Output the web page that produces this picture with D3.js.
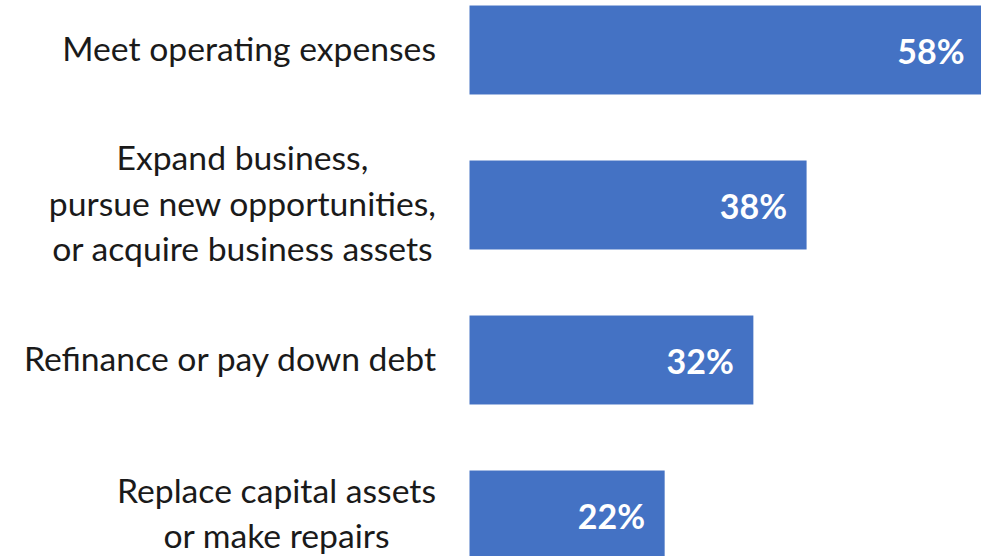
<!DOCTYPE html>
<html><head><meta charset="utf-8">
<script src="https://cdn.jsdelivr.net/npm/d3@7"></script>
<style>html,body{margin:0;padding:0;background:#fff;overflow:hidden}</style>
</head><body>
<svg id="chart" width="981" height="556"></svg>
<script>
const categories = [
  ["Meet operating expenses"],
  ["Expand business,", "pursue new opportunities,", "or acquire business assets"],
  ["Refinance or pay down debt"],
  ["Replace capital assets", "or make repairs"]
];
const values = [58, 38, 32, 22];
const valueLabels = ["58%", "38%", "32%", "22%"];

const W = 981, H = 556;
const svg = d3.select("#chart");
const keys = categories.map((c, i) => i);
const data = keys.map(i => ({ i, lines: categories[i], v: values[i], lab: valueLabels[i] }));

const x = d3.scaleLinear().domain([0, 58]).range([469.5, 984]);
const y = d3.scaleBand().domain(keys).range([-27.5, 592.5]).paddingInner(0.426).paddingOuter(0.213);

const font = "Lato, 'Open Sans', sans-serif";
const labelRight = 436, lineH = 45.5;

svg.append("g").selectAll("rect").data(data).join("rect")
  .attr("x", x(0)).attr("y", d => y(d.i))
  .attr("width", d => x(d.v) - x(0)).attr("height", y.bandwidth())
  .attr("fill", "#4472C4");

svg.append("g").selectAll("text").data(data).join("text")
  .attr("x", d => x(d.v) - 19.5)
  .attr("y", d => y(d.i) + y.bandwidth() / 2 + 14)
  .attr("text-anchor", "end")
  .attr("fill", "#fff")
  .style("font-family", font).style("font-size", "34px").style("font-weight", "bold")
  .text(d => d.lab);

const lg = svg.append("g").selectAll("g").data(data).join("g");
lg.each(function(d) {
  const g = d3.select(this);
  const cy = y(d.i) + y.bandwidth() / 2 + 10.5;
  const n = d.lines.length;
  const t = g.selectAll("text").data(d.lines).join("text")
    .attr("y", (l, k) => cy + (k - (n - 1) / 2) * lineH)
    .attr("fill", "#1a1a1a")
    .attr("text-anchor", "middle")
    .style("font-family", font).style("font-size", "33.7px")
    .text(l => l);
  let maxW = 0;
  t.each(function() { maxW = Math.max(maxW, this.getComputedTextLength()); });
  t.attr("x", labelRight - maxW / 2);
});
</script>
</body></html>
